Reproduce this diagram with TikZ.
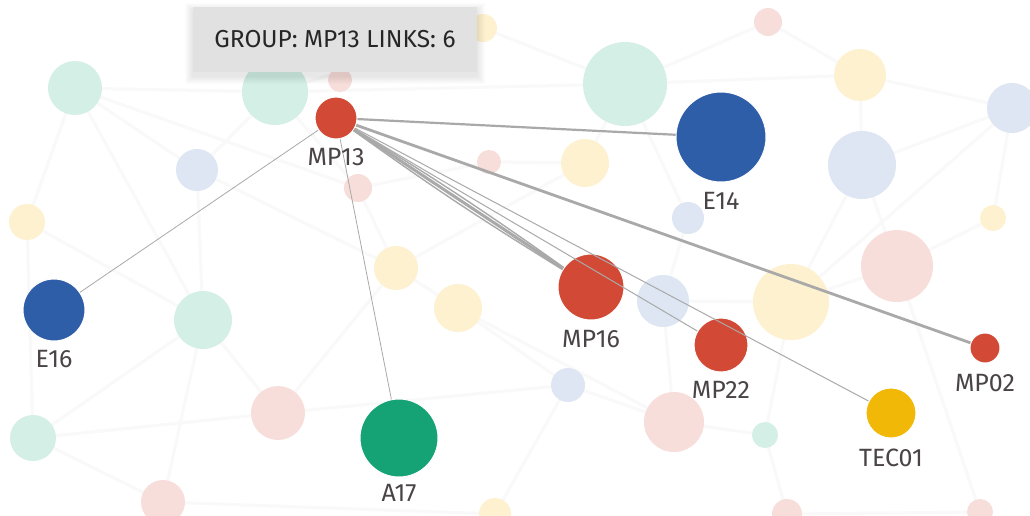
\documentclass[tikz,border=0pt]{standalone}
\usepackage{fontspec}
\setmainfont{Fira Sans}
\begin{document}
\begin{tikzpicture}[x=1pt,y=-1pt,
  every node/.style={inner sep=0pt},
  bgc/.style={circle,minimum size=#1,draw=none},
  fgc/.style={circle,minimum size=#1,draw=white,line width=1pt},
  lab/.style={text=labgray,font=\fontsize{25}{25}\selectfont,anchor=base},
  bgedge/.style={draw=gray!5,line width=3pt},
  edge/.style={draw=edgegray,line width=#1},
  edge/.default=1pt]
\definecolor{mint}{HTML}{D4EFE6}
\definecolor{lblue}{HTML}{DDE6F2}
\definecolor{lyel}{HTML}{FDF1CF}
\definecolor{lpink}{HTML}{F7DEDB}
\definecolor{cred}{HTML}{D24A36}
\definecolor{cblue}{HTML}{2F5EA8}
\definecolor{cgreen}{HTML}{15A375}
\definecolor{cyel}{HTML}{F2B807}
\definecolor{edgegray}{HTML}{A9A9A9}
\definecolor{labgray}{HTML}{4A4446}
\definecolor{tipgray}{HTML}{E1E1E1}
\useasboundingbox (0,0) rectangle (1030,515);
\fill[white] (0,0) rectangle (1030,515);
% background faded nodes
\foreach \n/\x/\y in {
 1/75/88, 2/275/92, 3/197/170, 4/27/222, 5/203/320, 6/33/438, 7/278/413, 8/163/502,
 9/396/268, 10/458/308, 11/358/188, 12/489/162, 13/585/163, 14/625/84, 15/688/218,
 16/663/301, 17/568/385, 18/674/422, 19/765/435, 20/791/302, 21/897/266, 22/860/75,
 23/768/22, 24/862/165, 25/1012/108, 26/993/218, 27/980/512, 28/787/514, 29/495/514,
 30/483/28, 31/340/80}
 { \coordinate (b\n) at (\x,\y); }
% faint background links
\foreach \a/\b in {1/2,1/3,1/4,1/5,3/5,3/2,5/6,5/7,5/8,6/7,6/8,7/9,9/10,10/17,
 2/11,11/9,12/13,13/14,14/2,14/22,14/15,15/16,16/18,17/18,18/19,19/20,20/21,
 21/24,24/22,22/23,23/14,24/25,21/26,26/25,19/28,28/27,27/21,29/17,29/8,4/6,
 16/20,13/9,12/11,30/14,30/2,24/20,3/9,10/18,1/11,4/5,7/17,20/25,22/25}
 { \path[bgedge] (b\a) -- (b\b); }
\foreach \n/\r/\c in {
 1/27/mint, 2/33/mint, 3/21/lblue, 4/18/lyel, 5/29/mint, 6/23/mint, 7/27/lpink,
 8/22/lpink, 9/22/lyel, 10/24/lyel, 11/14/lpink, 12/12/lpink, 13/24/lyel, 14/42/mint,
 15/16/lblue, 16/26/lblue, 17/17/lblue, 18/30/lpink, 19/13/mint, 20/38/lyel,
 21/36/lpink, 22/26/lyel, 23/14/lpink, 24/34/lblue, 25/25/lblue, 26/13/lyel,
 27/13/lpink, 28/15/lpink, 29/16/lyel, 30/14/lyel, 31/12/lpink}
 { \node[bgc=2*\r pt,fill=\c] (bn\n) at (b\n) {}; }
% highlighted nodes
\node[fgc=42pt,fill=cred]   (MP13)  at (336,118) {};
\node[fgc=90pt,fill=cblue]  (E14)   at (721,137) {};
\node[fgc=62pt,fill=cblue]  (E16)   at (54,310) {};
\node[fgc=78pt,fill=cgreen] (A17)   at (399,438) {};
\node[fgc=66pt,fill=cred]   (MP16)  at (591,287) {};
\node[fgc=54pt,fill=cred]   (MP22)  at (721,345) {};
\node[fgc=50pt,fill=cyel]   (TEC01) at (891,413) {};
\node[fgc=30pt,fill=cred]   (MP02)  at (985,348) {};
% links of MP13
\path[edge=2.2pt] (MP13) -- (E14);
\path[edge=2.8pt] (MP13) -- (MP02);
\path[edge=3pt] (MP13) -- (MP16);
\path[edge=1.4pt] (MP13) to[bend left=2] (MP16);
\path[edge=1.4pt] (MP13) to[bend right=2] (MP16);
\path[edge=1pt] (MP13) -- (MP22);
\path[edge=1pt] (MP13) -- (TEC01);
\path[edge=0.8pt] (MP13) -- (E16);
\path[edge=0.8pt] (MP13) -- (A17);
% labels
\node[lab] (lMP13)  at (336,165) {MP13};
\node[lab] (lE14)   at (721,209) {E14};
\node[lab] (lE16)   at (54,367) {E16};
\node[lab] (lA17)   at (399,501) {A17};
\node[lab] (lMP16)  at (591,347) {MP16};
\node[lab] (lMP22)  at (721,398) {MP22};
\node[lab] (lTEC01) at (891,466) {TEC01};
\node[lab] (lMP02)  at (985,391) {MP02};
% tooltip
\foreach \k in {1,...,8}
 { \fill[black,opacity=0.012] (193-\k,7-\k+4) rectangle (477+\k,72+\k+4); }
\node[fill=tipgray,minimum width=284pt,minimum height=65pt] (tip) at (335,39.5) {};
\node[text=black!85,font=\fontsize{24.5}{25}\selectfont] (tiptext) at (tip.center) {GROUP: MP13 LINKS: 6};
\end{tikzpicture}
\end{document}
